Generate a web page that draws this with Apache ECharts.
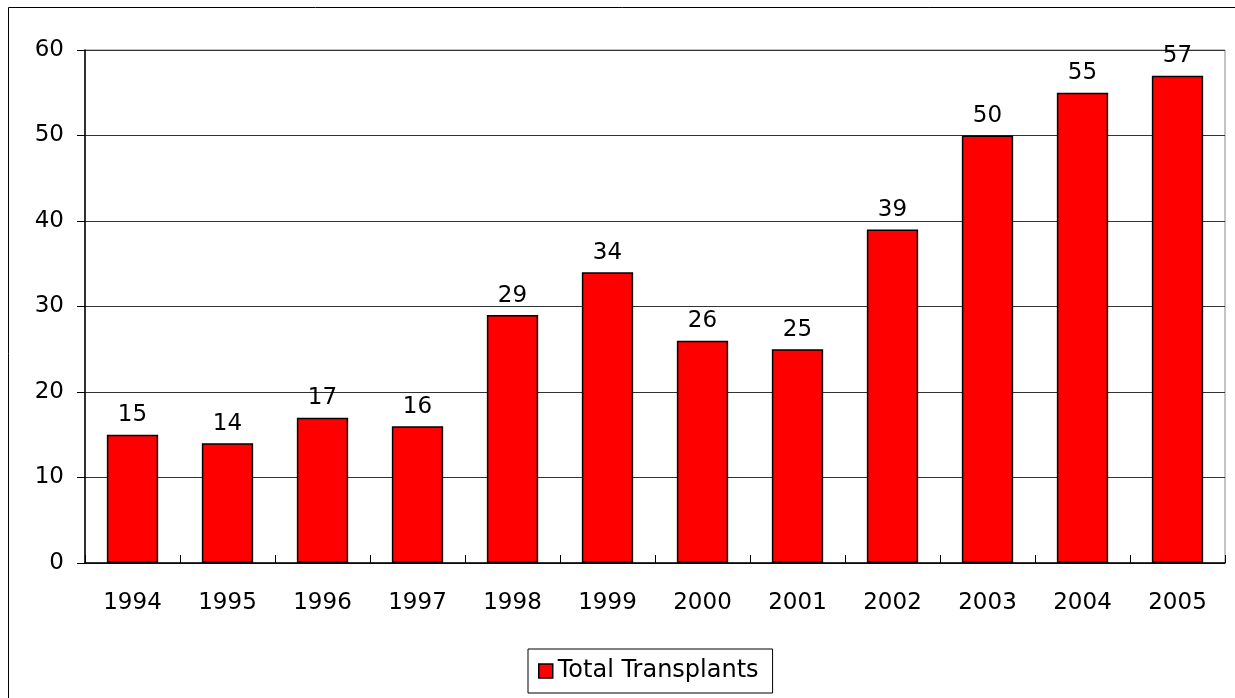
<!DOCTYPE html>
<html><head><meta charset="utf-8">
<script src="https://cdn.jsdelivr.net/npm/echarts@6/dist/echarts.min.js"></script>
<style>html,body{margin:0;padding:0;background:#fff}#c{width:1235px;height:698px}</style>
</head><body><div id="c"></div>
<script>
const years = ['1994','1995','1996','1997','1998','1999','2000','2001','2002','2003','2004','2005'];
const transplants = [15,14,17,16,29,34,26,25,39,50,55,57];
const seriesName = 'Total Transplants';

const chart = echarts.init(document.getElementById('c'));
const font = 'DejaVu Sans';
chart.setOption({
  animation: false,
  textStyle: {fontFamily: font},
  graphic: [{
    type: 'rect', shape: {x: 8.5, y: 7.5, width: 1300, height: 800},
    style: {fill: 'none', stroke: '#000', lineWidth: 1}, z: -1
  }],
  grid: {left: 85, right: 10, top: 50, bottom: 135, show: true, borderColor: '#888', borderWidth: 1},
  xAxis: {
    type: 'category', data: years,
    axisLine: {lineStyle: {color: '#000', width: 1.5}},
    axisTick: {show: true, inside: true, length: 8, alignWithLabel: false, lineStyle: {color: '#000'}},
    axisLabel: {color: '#000', fontSize: 23, fontFamily: font, margin: 29}
  },
  yAxis: {
    type: 'value', min: 0, max: 60, interval: 10,
    axisLine: {show: true, lineStyle: {color: '#000', width: 1.5}},
    axisTick: {show: true, length: 8, lineStyle: {color: '#000'}},
    axisLabel: {color: '#000', fontSize: 23, fontFamily: font, margin: 21},
    splitLine: {lineStyle: {color: '#333', width: 1}}
  },
  legend: {
    bottom: 5, left: 528, data: [seriesName],
    icon: 'rect', itemWidth: 14, itemHeight: 14, itemGap: 10,
    borderColor: '#000', borderWidth: 1, padding: [10, 14, 10, 10],
    textStyle: {color: '#000', fontSize: 24, fontFamily: font},
    itemStyle: {borderColor: '#000', borderWidth: 1.5}
  },
  series: [{
    name: seriesName, type: 'bar', data: transplants,
    barCategoryGap: '46%',
    itemStyle: {color: '#ff0000', borderColor: '#000', borderWidth: 1.5},
    label: {show: true, position: 'top', distance: 8, color: '#000', fontSize: 23, fontFamily: font}
  }]
});
</script></body></html>
